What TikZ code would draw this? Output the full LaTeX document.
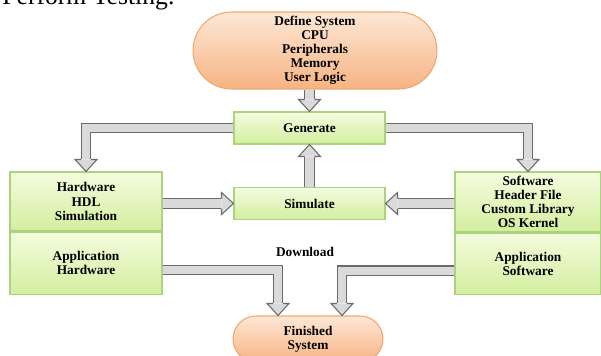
\documentclass[tikz,border=0pt]{standalone}
\usepackage{fontspec}
\setmainfont{Liberation Serif}
\usetikzlibrary{positioning}

\definecolor{boxline}{HTML}{A9D37C}
\definecolor{boxtop}{HTML}{F4FCDF}
\definecolor{boxbot}{HTML}{D3EE9F}
\definecolor{termline}{HTML}{F2A66B}
\definecolor{termtop}{HTML}{FDE8D6}
\definecolor{termbot}{HTML}{F7B383}
\definecolor{pipeline}{HTML}{6A6A6A}
\definecolor{pipefill}{HTML}{DADADA}

\tikzset{
  stage/.style={draw=boxline, line width=0.6pt, top color=boxtop, bottom color=boxbot,
    align=center, inner sep=1pt, font=\bfseries\fontsize{7.6}{8}\selectfont},
  terminal/.style={stage, draw=termline, top color=termtop, bottom color=termbot},
  pipe/.style={draw=pipeline, line width=0.6pt, double=pipefill, double distance=4.6pt,
    shorten >=0.24cm},
  % hollow arrow head, tip at the origin, pointing along +x
  blockhead/.pic={
    \fill[pipefill] (0,0) -- (-12,11) -- (-12,-11) -- cycle;
    \draw[pipeline, line width=0.6pt] (-12,5) -- (-12,11) -- (0,0) -- (-12,-11) -- (-12,-5);
  }
}

\begin{document}
\begin{tikzpicture}[x=0.02cm, y=-0.02cm]
  \useasboundingbox (0,0) rectangle (601,355);
  \clip (0,0) rectangle (601,355);

  \node[anchor=base west, inner sep=0pt, font=\fontsize{14.6}{16}\selectfont] (title) at (2,5) {Perform Testing.};

  \node[terminal, minimum width=4.88cm, minimum height=1.54cm, rounded corners=0.77cm] (def) at (315,50.5)
    {Define System\\CPU\\Peripherals\\Memory\\User Logic};
  \node[stage, minimum width=3.02cm, minimum height=0.64cm] (gen) at (309.5,128) {Generate};
  \node[stage, minimum width=3.02cm, minimum height=0.64cm] (sim) at (309.5,203.5) {Simulate};

  \node[stage, minimum width=3.04cm, minimum height=1.18cm] (hw) at (86,201.5) {Hardware\\HDL\\Simulation};
  \node[stage, minimum width=3.04cm, minimum height=1.24cm, below=0pt of hw] (hwapp) {Application\\Hardware};

  \node[stage, minimum width=2.92cm, minimum height=1.2cm] (sw) at (528,202)
    {Software\\Header File\\Custom Library\\OS Kernel};
  \node[stage, minimum width=2.92cm, minimum height=1.22cm, below=0pt of sw] (swapp) {Application\\Software};

  \node[terminal, minimum width=3cm, minimum height=0.92cm, rounded corners=0.46cm] (fin) at (308,339)
    {Finished\\System};

  \node[font=\bfseries\fontsize{7.6}{8}\selectfont] (dl) at (305,252) {Download};

  % block arrows
  \draw[pipe] (def.south -| gen.north) -- (gen.north);
  \pic[rotate=-90] at (gen.north) {blockhead};

  \draw[pipe] (gen.west) -| (hw.north);
  \pic[rotate=-90] at (hw.north) {blockhead};
  \draw[pipe] (gen.east) -| (sw.north);
  \pic[rotate=-90] at (sw.north) {blockhead};

  \draw[pipe] (sim.north) -- (gen.south);
  \pic[rotate=90] at (gen.south) {blockhead};

  \draw[pipe] (hw.east |- sim.west) -- (sim.west);
  \pic at (sim.west) {blockhead};
  \draw[pipe] (sw.west |- sim.east) -- (sim.east);
  \pic[rotate=180] at (sim.east) {blockhead};

  \draw[pipe] ([yshift=-0.14cm]hwapp.east) -| ([xshift=-0.6cm]fin.north);
  \pic[rotate=-90] at ([xshift=-0.6cm]fin.north) {blockhead};
  \draw[pipe] ([yshift=-0.14cm]swapp.west) -| ([xshift=0.68cm]fin.north);
  \pic[rotate=-90] at ([xshift=0.68cm]fin.north) {blockhead};
\end{tikzpicture}
\end{document}
